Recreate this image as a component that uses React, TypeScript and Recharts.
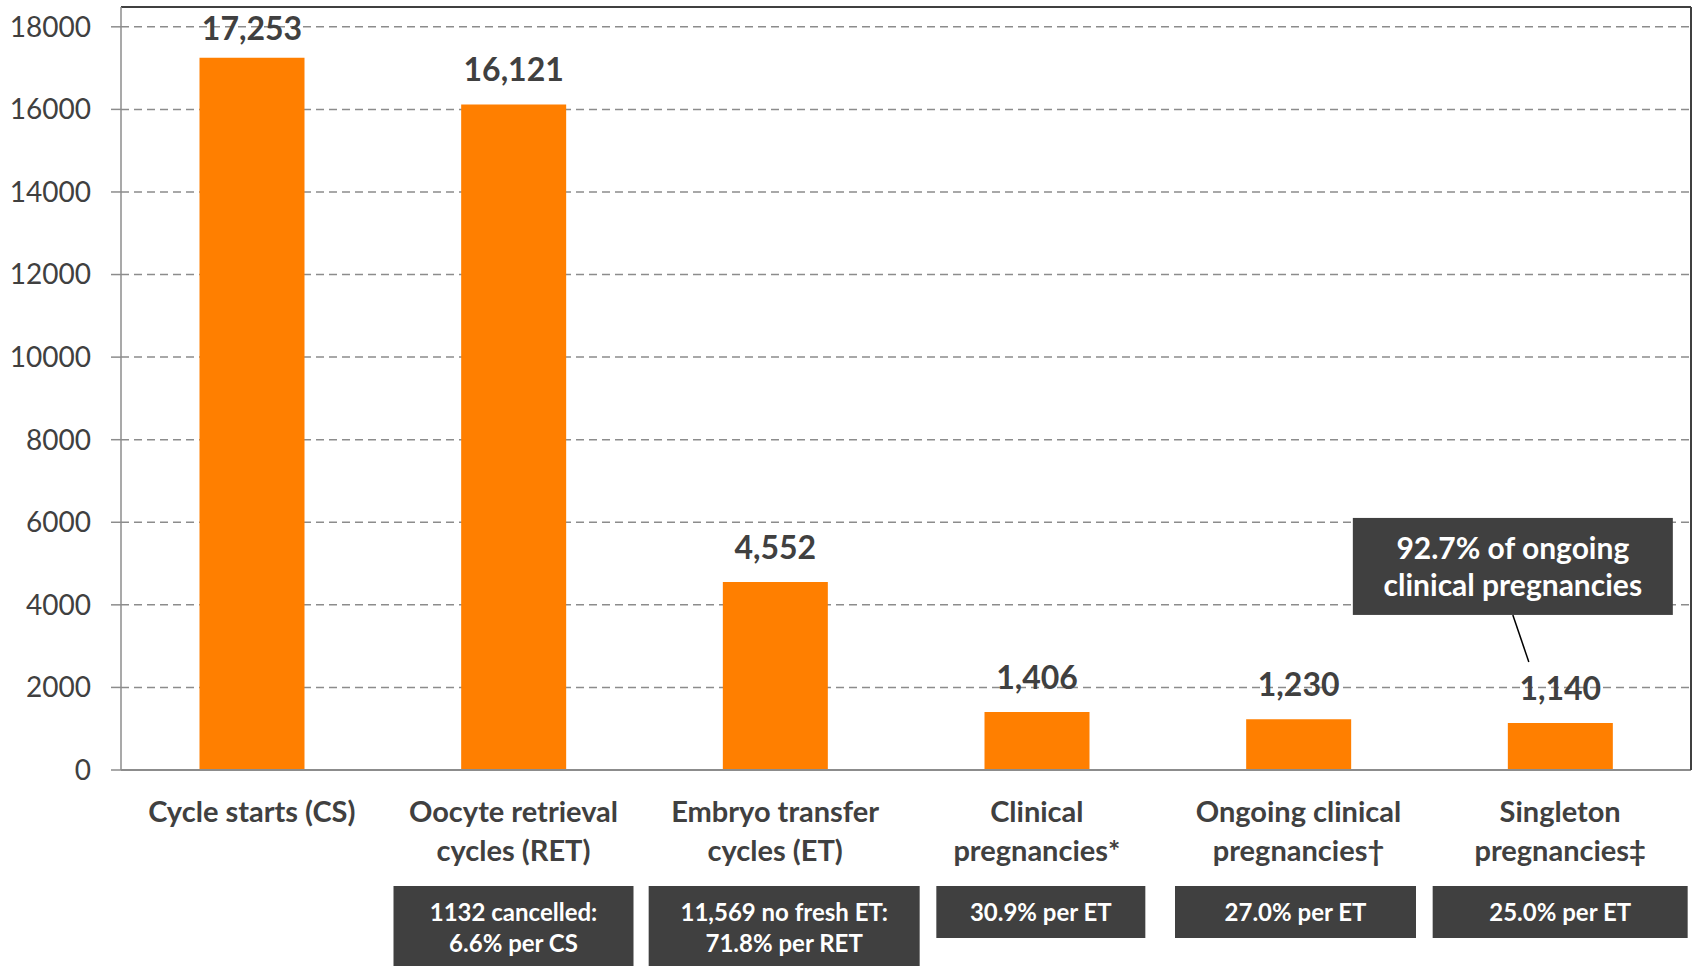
import { BarChart, Bar, XAxis, YAxis, CartesianGrid, LabelList } from "recharts"

// category keys and how they wrap under the axis
const CATEGORIES = [
  "Cycle starts (CS)",
  "Oocyte retrieval cycles (RET)",
  "Embryo transfer cycles (ET)",
  "Clinical pregnancies*",
  "Ongoing clinical pregnancies†",
  "Singleton pregnancies‡",
]
const CATEGORY_LINES = [
  ["Cycle starts (CS)"],
  ["Oocyte retrieval", "cycles (RET)"],
  ["Embryo transfer", "cycles (ET)"],
  ["Clinical", "pregnancies*"],
  ["Ongoing clinical", "pregnancies†"],
  ["Singleton", "pregnancies‡"],
]
const COUNTS = [17253, 16121, 4552, 1406, 1230, 1140]
const NOTES = [
  [],
  ["1132 cancelled:", "6.6% per CS"],
  ["11,569 no fresh ET:", "71.8% per RET"],
  ["30.9% per ET"],
  ["27.0% per ET"],
  ["25.0% per ET"],
]
const ANNOTATION = ["92.7% of ongoing", "clinical pregnancies"]
const Y_TICKS = [0, 2000, 4000, 6000, 8000, 10000, 12000, 14000, 16000, 18000]
const BOUNDARY_TICKS = [0, 1, 2, 3, 4, 5, 6]

// styling per category
const NOTE_WIDTHS = [0, 240, 271, 209, 241, 255]
const NOTE_SHIFT = [0, 0, 9, 4, -3, 0]
const LABEL_OFFSETS = [18, 23, 23, 23, 23, 23]

const ORANGE = "#FF7F00"
const DARK = "#404040"
const GRID = "#8c8c8c"
const FONT = "Lato, 'Open Sans', sans-serif"

const data = CATEGORIES.map((name, i) => ({ name, count: COUNTS[i] }))

function CategoryTick(props: any) {
  const { x, y, index } = props
  const lines = CATEGORY_LINES[index] || []
  const notes = NOTES[index] || []
  const w = NOTE_WIDTHS[index]
  const nx = x + NOTE_SHIFT[index]
  return (
    <g>
      {lines.map((t, i) => (
        <text
          key={i}
          x={x}
          y={y + 51 + i * 39}
          textAnchor="middle"
          fontFamily={FONT}
          fontWeight={700}
          fontSize={29}
          fill={DARK}
        >
          {t}
        </text>
      ))}
      {notes.length > 0 && (
        <g>
          <rect x={nx - w / 2} y={y + 115} width={w} height={notes.length === 1 ? 52 : 100} fill={DARK} />
          {notes.map((t, i) => (
            <text
              key={i}
              x={nx}
              y={y + 150 + i * 31}
              textAnchor="middle"
              fontFamily={FONT}
              fontWeight={700}
              fontSize={24}
              fill="#ffffff"
            >
              {t}
            </text>
          ))}
        </g>
      )}
    </g>
  )
}

function ValueLabel(props: any) {
  const { x, y, width, value, index } = props
  const cx = x + width / 2
  return (
    <g>
      <text
        x={cx}
        y={y - LABEL_OFFSETS[index]}
        textAnchor="middle"
        fontFamily={FONT}
        fontWeight={700}
        fontSize={32}
        fill={DARK}
      >
        {Number(value).toLocaleString("en-US")}
      </text>
      {index === CATEGORIES.length - 1 && (
        <g>
          <rect x={cx - 207.5} y={y - 205} width={320} height={97} fill={DARK} />
          {ANNOTATION.map((t, i) => (
            <text
              key={i}
              x={cx - 47.5}
              y={y - 164 + i * 37}
              textAnchor="middle"
              fontFamily={FONT}
              fontWeight={700}
              fontSize={30}
              fill="#ffffff"
            >
              {t}
            </text>
          ))}
          <line x1={cx - 47.5} y1={y - 108} x2={cx - 31.5} y2={y - 61} stroke="#000" strokeWidth={1.5} />
        </g>
      )}
    </g>
  )
}

export default function App() {
  return (
    <div style={{ position: "absolute", left: 0, top: 0, background: "#fff" }}>
      <BarChart
        width={1694}
        height={966}
        data={data}
        margin={{ top: 6, right: 2, bottom: 0, left: 0 }}
        barCategoryGap="30%"
      >
        <CartesianGrid vertical={false} stroke={GRID} strokeWidth={1.5} strokeDasharray="8 5" yAxisId="left" xAxisId="cat" />
        <XAxis
          xAxisId="bounds"
          type="number"
          domain={[0, 6]}
          ticks={BOUNDARY_TICKS}
          allowDataOverflow
          height={1}
          tick={false}
          tickSize={10}
          tickLine={{ stroke: GRID, strokeWidth: 1.5 }}
          axisLine={{ stroke: GRID, strokeWidth: 2 }}
        />
        <XAxis
          xAxisId="cat"
          dataKey="name"
          height={195}
          interval={0}
          tickSize={0}
          tickMargin={0}
          tickLine={false}
          axisLine={false}
          tick={<CategoryTick />}
        />
        <XAxis
          xAxisId="top"
          orientation="top"
          dataKey="name"
          height={1}
          tick={false}
          tickLine={false}
          axisLine={{ stroke: DARK, strokeWidth: 2 }}
        />
        <YAxis
          yAxisId="left"
          type="number"
          domain={[0, 18480]}
          ticks={Y_TICKS}
          interval={0}
          width={121}
          tickSize={10}
          tickMargin={20}
          tick={{ fill: DARK, fontSize: 28, fontFamily: FONT }}
          tickLine={{ stroke: GRID, strokeWidth: 1.5 }}
          axisLine={{ stroke: GRID, strokeWidth: 1.5 }}
        />
        <YAxis
          yAxisId="right"
          orientation="right"
          width={1}
          tick={false}
          tickLine={false}
          axisLine={{ stroke: DARK, strokeWidth: 2 }}
        />
        <Bar dataKey="count" xAxisId="cat" yAxisId="left" fill={ORANGE} isAnimationActive={false}>
          <LabelList dataKey="count" content={<ValueLabel />} />
        </Bar>
      </BarChart>
    </div>
  )
}
